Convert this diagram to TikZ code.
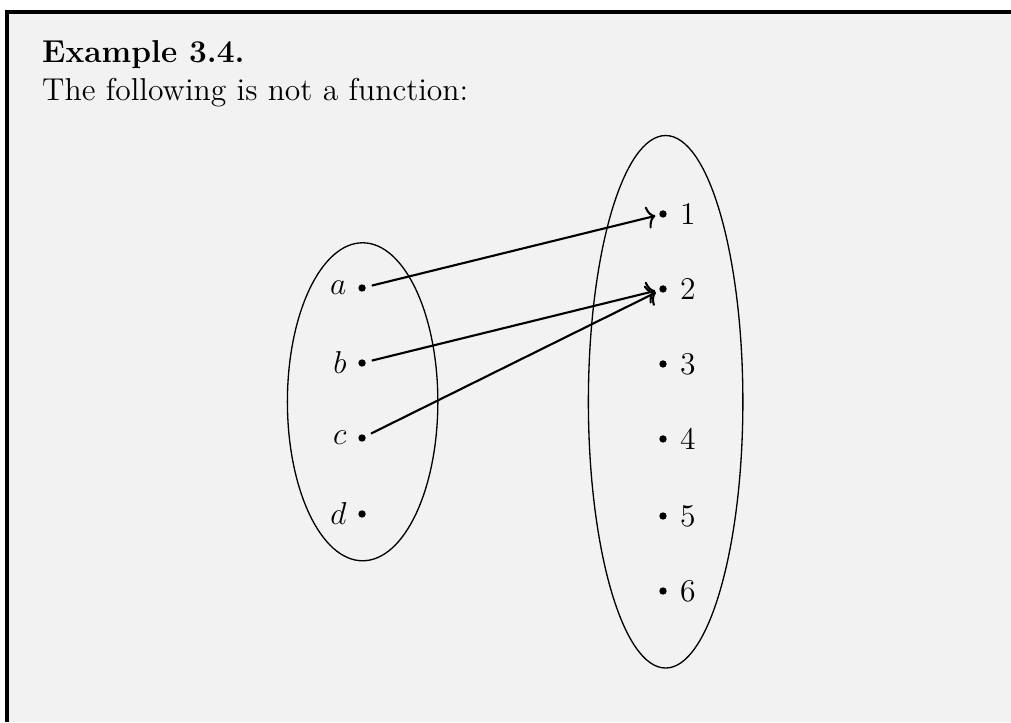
\documentclass[tikz,border=0pt,12pt]{standalone}
\usetikzlibrary{calc,arrows.meta}
\definecolor{boxbg}{RGB}{242,242,242}
\tikzset{
  pt/.style={circle, fill=black, inner sep=0pt, minimum size=2.8pt, outer sep=0pt},
  lbl/.style={inner sep=0pt, font=\fontsize{12}{14.5}\selectfont},
  setell/.style={draw, line width=0.5pt},
  maparrow/.style={-{To[length=3.2pt,width=8.5pt]}, line width=0.8pt, shorten >=1.6pt, shorten <=2.4pt},
  frameline/.style={line width=1.5pt, line cap=butt},
}
\begin{document}
\begin{tikzpicture}[x=1cm,y=1cm]
\useasboundingbox (0,0) rectangle (13.48,-9.627);
\fill[white] (0,0) rectangle (13.48,-9.627);
\fill[boxbg] (0.067,-0.133) rectangle (13.48,-9.627);
\draw[frameline] (0.093,-9.627) -- (0.093,-0.16) -- (13.48,-0.16);
\node[lbl, anchor=base west] (title) at (0.556,-0.83) {\bfseries Example 3.4.};
\node[lbl, anchor=base west] (txt) at (0.556,-1.343) {The following is not a function:};
% ellipses
\draw[setell] (4.835,-5.357) ellipse [x radius=1.003cm, y radius=2.12cm];
\draw[setell] (8.875,-5.357) ellipse [x radius=1.03cm, y radius=3.55cm];
% left points
\foreach \n/\y in {a/3.84,b/4.84,c/5.84,d/6.853}{
  \node[pt] (\n) at (4.827,-\y) {};
  \node[lbl, anchor=east] (l\n) at ($(\n)+(-0.2,0)$) {$\n$};
}
% right points
\foreach \n/\y in {1/2.853,2/3.853,3/4.853,4/5.853,5/6.88,6/7.88}{
  \node[pt] (r\n) at (8.84,-\y) {};
  \node[lbl, anchor=west] (lr\n) at ($(r\n)+(0.22,0)$) {$\n$};
}
\draw[maparrow] (a) -- (r1);
\draw[maparrow] (b) -- (r2);
\draw[maparrow] (c) -- (r2);
\end{tikzpicture}
\end{document}
